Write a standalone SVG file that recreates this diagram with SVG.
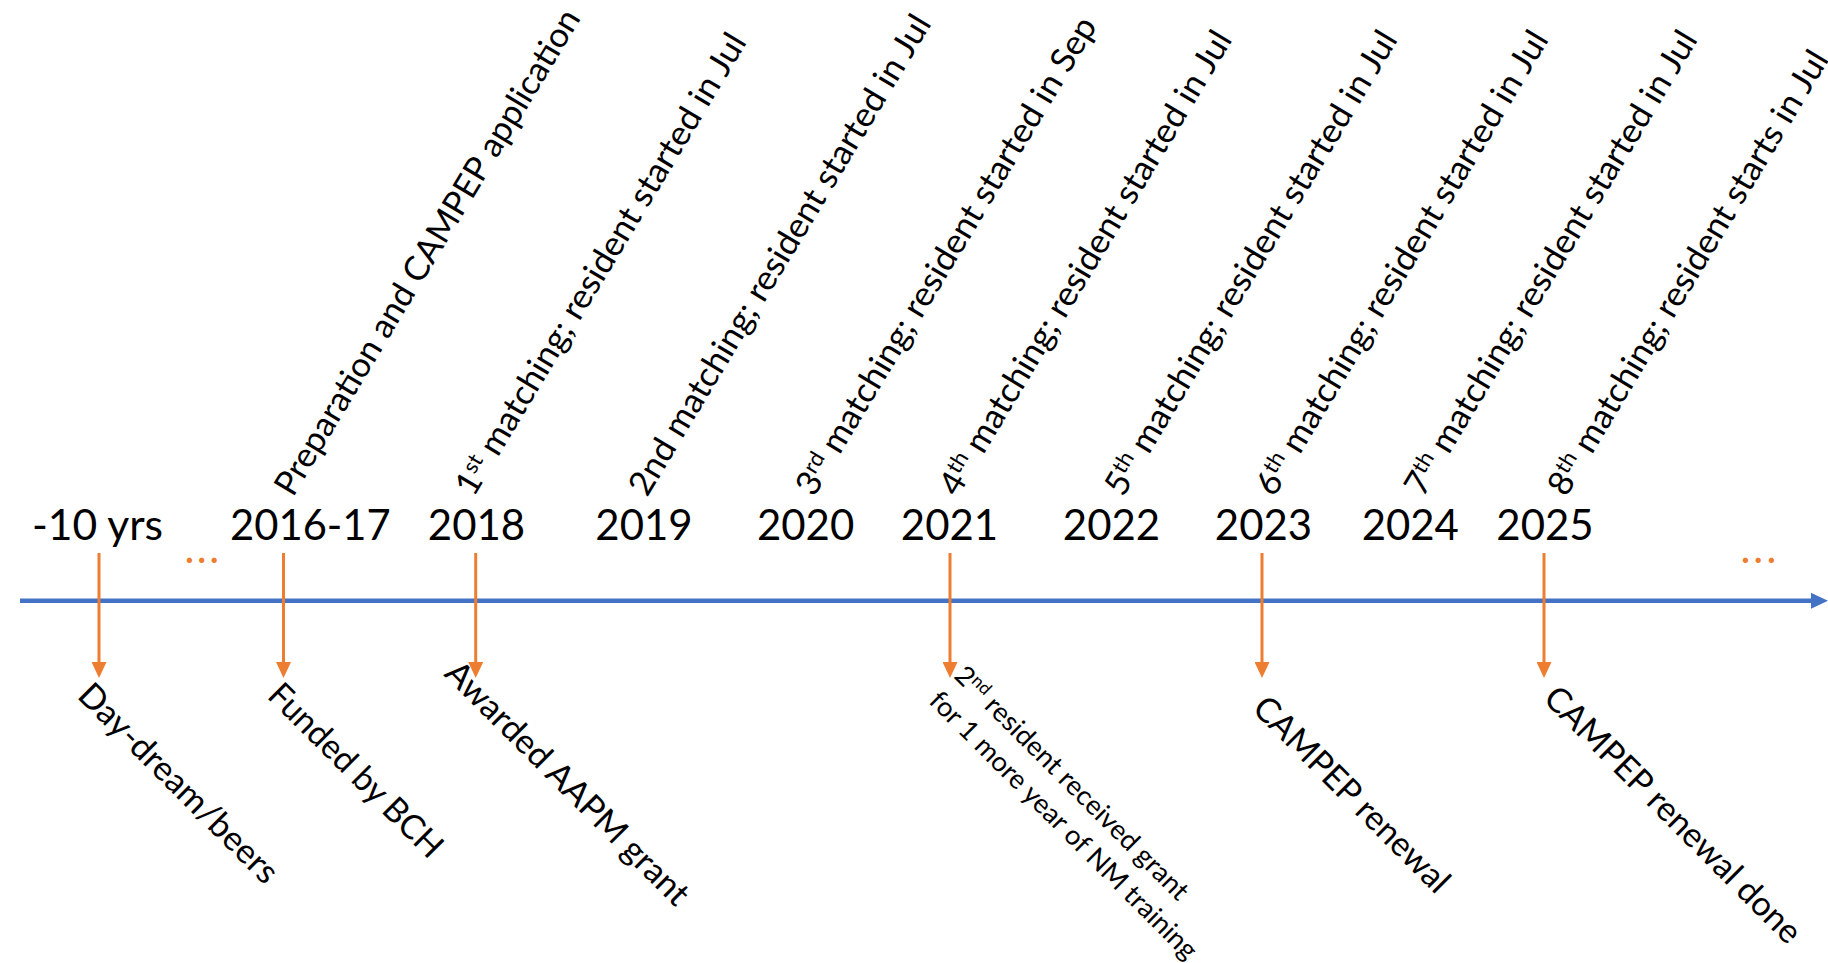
<svg xmlns="http://www.w3.org/2000/svg" width="1828" height="963" viewBox="0 0 1828 963">
<style>
.t{font-family:Lato,"Open Sans","Liberation Sans",sans-serif;fill:#000}
.yr{font-size:42.5px;text-anchor:middle}
.lb{font-size:34px}
.sm{font-size:27px}
.sup{font-size:22px}
.sups{font-size:17.5px}
.dots{font-family:Lato,"Liberation Sans",sans-serif;font-size:42px;fill:#ED7D31}
.axis{stroke:#4472C4;stroke-width:4.5;fill:none}
.ev{stroke:#ED7D31;stroke-width:3;fill:none}
</style>
<defs>
<marker id="oa" markerUnits="userSpaceOnUse" markerWidth="16" markerHeight="15" refX="0" refY="7.5" orient="auto"><path d="M0,0 L16,7.5 L0,15 z" fill="#ED7D31"/></marker>
<marker id="ba" markerUnits="userSpaceOnUse" markerWidth="17" markerHeight="16" refX="0" refY="8" orient="auto"><path d="M0,0 L17,8 L0,16 z" fill="#4472C4"/></marker>
</defs>
<rect width="1828" height="963" fill="#fff"/>

<g id="connectors">
<line class="axis" x1="20" y1="600.8" x2="1811" y2="600.8" marker-end="url(#ba)"/>
<line class="ev" x1="99" y1="553" x2="99" y2="662" marker-end="url(#oa)"/>
<line class="ev" x1="283.5" y1="553" x2="283.5" y2="662" marker-end="url(#oa)"/>
<line class="ev" x1="475.7" y1="553" x2="475.7" y2="662" marker-end="url(#oa)"/>
<line class="ev" x1="950" y1="553" x2="950" y2="662" marker-end="url(#oa)"/>
<line class="ev" x1="1262" y1="553" x2="1262" y2="662" marker-end="url(#oa)"/>
<line class="ev" x1="1544" y1="553" x2="1544" y2="662" marker-end="url(#oa)"/>
</g>

<g id="ellipsis-left"><text class="dots" x="184.5 196.8 209.3" y="563">...</text></g>
<g id="ellipsis-right"><text class="dots" x="1740.5 1753.2 1766.5" y="563">...</text></g>

<g id="n-minus10">
<text class="t yr" x="97.5" y="540" textLength="131" lengthAdjust="spacingAndGlyphs">-10 yrs</text>
<text class="t lb" transform="translate(76,697) rotate(45)" textLength="267" lengthAdjust="spacingAndGlyphs">Day-dream/beers</text>
</g>

<g id="n-2016-17">
<text class="t yr" x="310.4" y="540" textLength="160.7" lengthAdjust="spacingAndGlyphs">2016-17</text>
<text class="t lb" transform="translate(293,498) rotate(-59)" textLength="560" lengthAdjust="spacingAndGlyphs">Preparation and CAMPEP application</text>
<text class="t lb" transform="translate(266,697) rotate(45)" textLength="231" lengthAdjust="spacingAndGlyphs">Funded by BCH</text>
</g>

<g id="n-2018">
<text class="t yr" x="476.5" y="540" textLength="97.3" lengthAdjust="spacingAndGlyphs">2018</text>
<text class="t lb" transform="translate(473.5,498) rotate(-59)" textLength="532" lengthAdjust="spacingAndGlyphs">1<tspan class="sup" dy="-11">st</tspan><tspan dy="11"> matching; resident started in Jul</tspan></text>
<text class="t lb" transform="translate(443,675) rotate(45)" textLength="329" lengthAdjust="spacingAndGlyphs">Awarded AAPM grant</text>
</g>

<g id="n-2019">
<text class="t yr" x="644" y="540" textLength="97.3" lengthAdjust="spacingAndGlyphs">2019</text>
<text class="t lb" transform="translate(647,498) rotate(-59)" textLength="553.6" lengthAdjust="spacingAndGlyphs">2nd matching; resident started in Jul</text>
</g>

<g id="n-2020">
<text class="t yr" x="805.6" y="540" textLength="97.3" lengthAdjust="spacingAndGlyphs">2020</text>
<text class="t lb" transform="translate(814,498) rotate(-59)" textLength="551" lengthAdjust="spacingAndGlyphs">3<tspan class="sup" dy="-11">rd</tspan><tspan dy="11"> matching; resident started in Sep</tspan></text>
</g>

<g id="n-2021">
<text class="t yr" x="949.5" y="540" textLength="97.3" lengthAdjust="spacingAndGlyphs">2021</text>
<text class="t lb" transform="translate(957.5,498) rotate(-59)" textLength="535" lengthAdjust="spacingAndGlyphs">4<tspan class="sup" dy="-11">th</tspan><tspan dy="11"> matching; resident started in Jul</tspan></text>
<g transform="translate(953,677) rotate(45)">
<text class="t sm" x="0" y="0" textLength="318" lengthAdjust="spacingAndGlyphs">2<tspan class="sups" dy="-9">nd</tspan><tspan dy="9"> resident received grant</tspan></text>
<text class="t sm" x="0" y="35.8" textLength="366" lengthAdjust="spacingAndGlyphs">for 1 more year of NM training</text>
</g>
</g>

<g id="n-2022">
<text class="t yr" x="1111.5" y="540" textLength="97.3" lengthAdjust="spacingAndGlyphs">2022</text>
<text class="t lb" transform="translate(1123,498) rotate(-59)" textLength="535" lengthAdjust="spacingAndGlyphs">5<tspan class="sup" dy="-11">th</tspan><tspan dy="11"> matching; resident started in Jul</tspan></text>
</g>

<g id="n-2023">
<text class="t yr" x="1263.5" y="540" textLength="97.3" lengthAdjust="spacingAndGlyphs">2023</text>
<text class="t lb" transform="translate(1274,498) rotate(-59)" textLength="535" lengthAdjust="spacingAndGlyphs">6<tspan class="sup" dy="-11">th</tspan><tspan dy="11"> matching; resident started in Jul</tspan></text>
<text class="t lb" transform="translate(1251,710) rotate(45)" textLength="262" lengthAdjust="spacingAndGlyphs">CAMPEP renewal</text>
</g>

<g id="n-2024">
<text class="t yr" x="1410.3" y="540" textLength="97.3" lengthAdjust="spacingAndGlyphs">2024</text>
<text class="t lb" transform="translate(1423,498) rotate(-59)" textLength="535" lengthAdjust="spacingAndGlyphs">7<tspan class="sup" dy="-11">th</tspan><tspan dy="11"> matching; resident started in Jul</tspan></text>
</g>

<g id="n-2025">
<text class="t yr" x="1545" y="540" textLength="97.3" lengthAdjust="spacingAndGlyphs">2025</text>
<text class="t lb" transform="translate(1566,498) rotate(-59)" textLength="512" lengthAdjust="spacingAndGlyphs">8<tspan class="sup" dy="-11">th</tspan><tspan dy="11"> matching; resident starts in Jul</tspan></text>
<text class="t lb" transform="translate(1542,700) rotate(45)" textLength="347.5" lengthAdjust="spacingAndGlyphs">CAMPEP renewal done</text>
</g>
</svg>
